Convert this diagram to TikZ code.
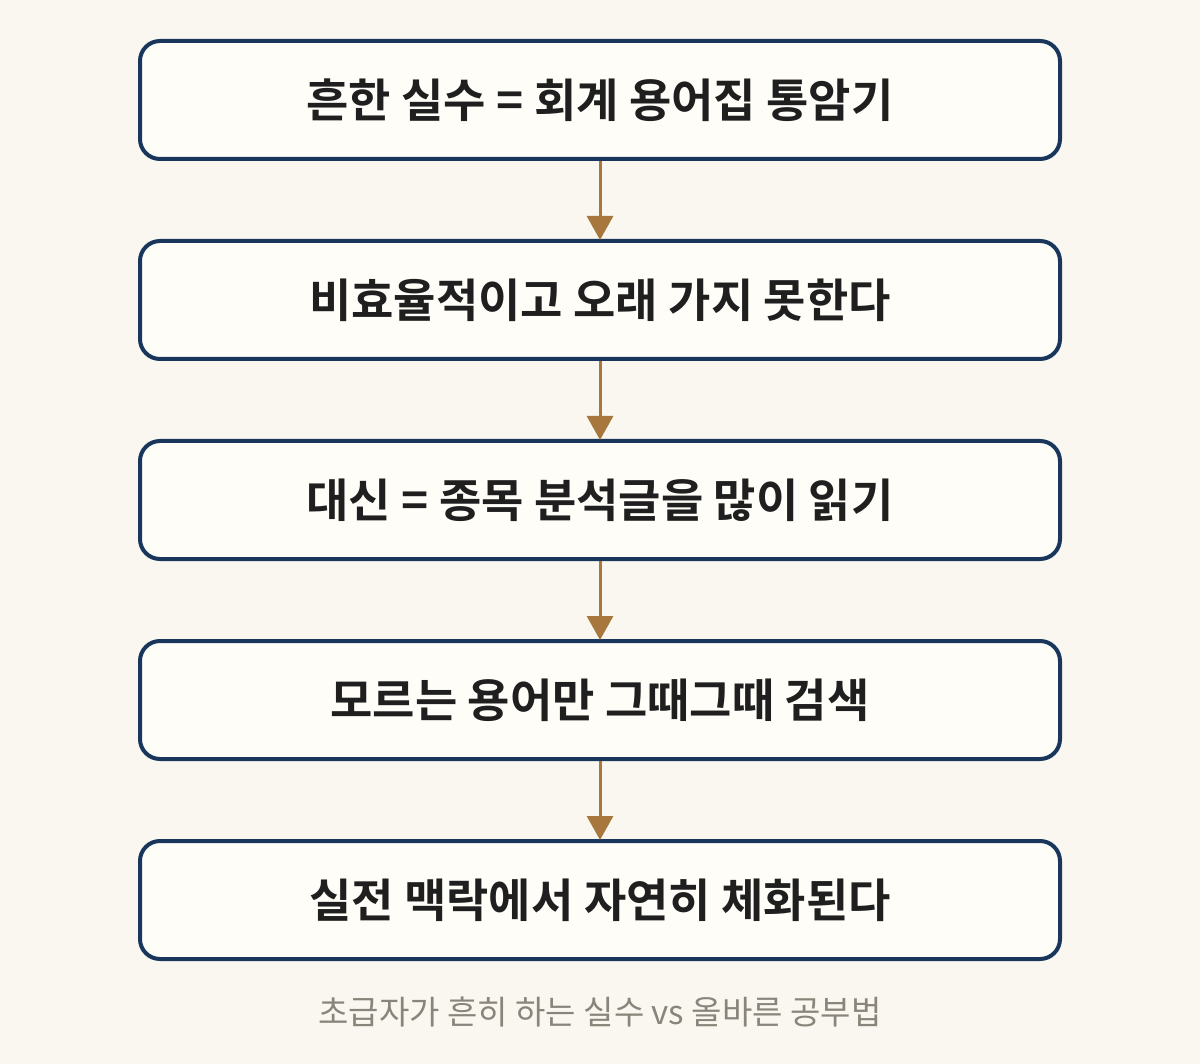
\documentclass[tikz,border=0pt]{standalone}
\usepackage{fontspec}
\setmainfont{Noto Sans CJK KR}
\newfontfamily\krbold{Noto Sans CJK KR Bold}
\usetikzlibrary{arrows.meta}
\definecolor{bgc}{HTML}{F9F7F0}
\definecolor{boxfill}{HTML}{FFFDF8}
\definecolor{boxline}{HTML}{1A365C}
\definecolor{arrowc}{HTML}{A8773E}
\definecolor{capc}{HTML}{8A857A}
\tikzset{
  stepbox/.style={draw=boxline, fill=boxfill, line width=4pt, rounded corners=20pt,
    minimum width=920pt, minimum height=118pt, inner sep=0pt,
    font=\krbold\fontsize{46}{54}\selectfont, text=black!88},
  flowarrow/.style={draw=arrowc, line width=3pt, -{Triangle[length=24pt,width=26pt]}, shorten >=-1pt}
}
\begin{document}
\begin{tikzpicture}[x=1pt,y=-1pt]
\fill[bgc] (0,0) rectangle (1200,1064);
\useasboundingbox (0,0) rectangle (1200,1064);
\node[stepbox] (b1) at (600,100) {흔한 실수 = 회계 용어집 통암기};
\node[stepbox] (b2) at (600,300) {비효율적이고 오래 가지 못한다};
\node[stepbox] (b3) at (600,500) {대신 = 종목 분석글을 많이 읽기};
\node[stepbox] (b4) at (600,700) {모르는 용어만 그때그때 검색};
\node[stepbox] (b5) at (600,900) {실전 맥락에서 자연히 체화된다};
\draw[flowarrow] (b1.south) -- (b2.north);
\draw[flowarrow] (b2.south) -- (b3.north);
\draw[flowarrow] (b3.south) -- (b4.north);
\draw[flowarrow] (b4.south) -- (b5.north);
\node[font=\fontsize{33}{38}\selectfont, text=capc] (cap) at (600,1012) {초급자가 흔히 하는 실수 vs 올바른 공부법};
\end{tikzpicture}
\end{document}
